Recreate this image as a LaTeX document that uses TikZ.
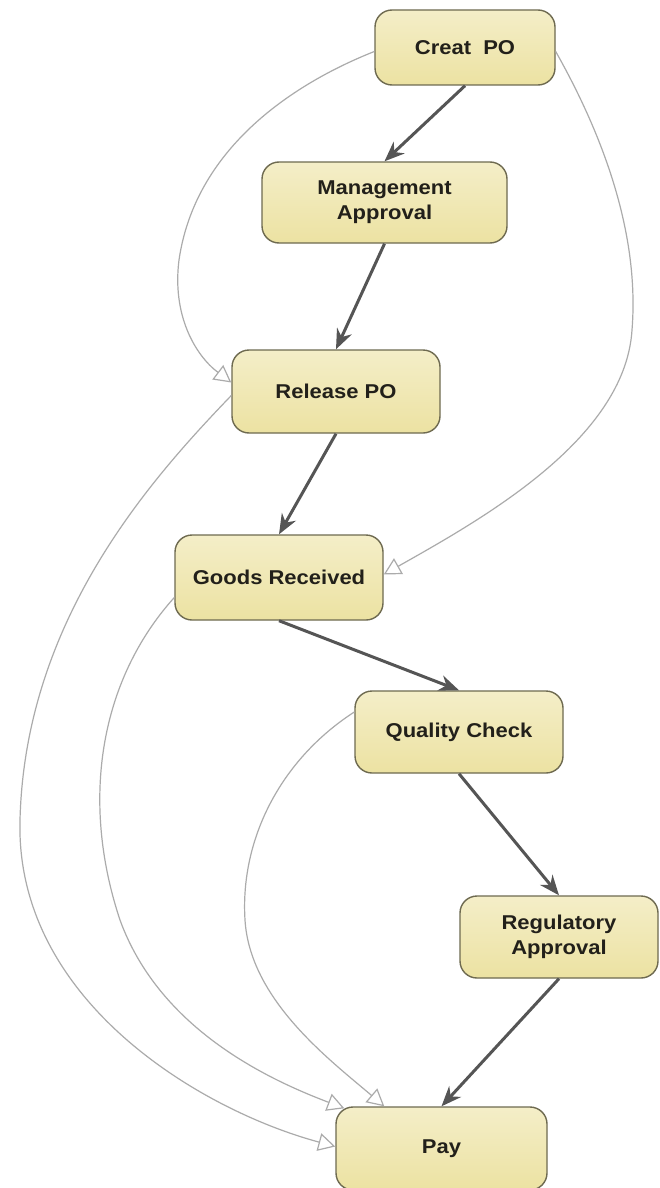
\documentclass[tikz,border=0pt]{standalone}
\usepackage{fontspec}
\setmainfont{Liberation Sans}[FakeStretch=1.1]
\usetikzlibrary{arrows.meta}

\definecolor{boxtop}{HTML}{F4EEC8}
\definecolor{boxbot}{HTML}{ECE2A2}
\definecolor{boxedge}{HTML}{6E6A50}
\definecolor{ink}{HTML}{22201A}
\definecolor{flow}{HTML}{555555}
\definecolor{link}{HTML}{ABABAB}

\tikzset{
  stepbox/.style={draw=boxedge, line width=1.4pt, rounded corners=17pt,
    top color=boxtop, bottom color=boxbot, text=ink, align=center,
    inner sep=0pt, font=\fontsize{20}{25}\selectfont\bfseries},
  flowline/.style={draw=flow, line width=3pt,
    -{Stealth[length=20pt,width=16pt]}},
  linkline/.style={draw=link, line width=1.2pt,
    -{Triangle[length=17pt,width=18pt,fill=white]}},
}

\begin{document}
\begin{tikzpicture}[x=1pt,y=-1pt]
  \useasboundingbox (0,0) rectangle (659,1188);
  \clip (0,0) rectangle (659,1188);
  \fill[white] (0,0) rectangle (659,1188);

  % process steps
  \node[stepbox, minimum width=180pt, minimum height=75pt] (creat) at (465,47.5) {Creat\ \ PO};
  \node[stepbox, minimum width=245pt, minimum height=81pt] (mgmt) at (384.5,202.5) {Management\\Approval};
  \node[stepbox, minimum width=208pt, minimum height=83pt] (release) at (336,391.5) {Release PO};
  \node[stepbox, minimum width=208pt, minimum height=85pt] (goods) at (279,577.5) {Goods Received};
  \node[stepbox, minimum width=208pt, minimum height=82pt] (quality) at (459,732) {Quality Check};
  \node[stepbox, minimum width=198pt, minimum height=82pt] (regul) at (559,937) {Regulatory\\Approval};
  \node[stepbox, minimum width=211pt, minimum height=83pt] (pay) at (441.5,1148.5) {Pay};

  % main flow
  \draw[flowline] (creat.south) -- (mgmt.north);
  \draw[flowline] (mgmt.south) -- (release.north);
  \draw[flowline] (release.south) -- (goods.north);
  \draw[flowline] (goods.south) -- (quality.north);
  \draw[flowline] (quality.south) -- (regul.north);
  \draw[flowline] (regul.south) -- (pay.north);

  % dependency links
  \draw[linkline] ([yshift=-4pt]creat.west)
    .. controls (290,85) and (195,150) .. (179,260)
    .. controls (172,315) and (195,355) .. ([yshift=9pt]release.west);
  \draw[linkline] ([yshift=-4pt]creat.east)
    .. controls (600,130) and (640,230) .. (632,330)
    .. controls (625,440) and (480,520) .. ([yshift=3pt]goods.east);
  \draw[linkline] ([yshift=-4pt]release.west)
    .. controls (150,480) and (25,620) .. (20,820)
    .. controls (15,1000) and (200,1110) .. ([yshift=2pt]pay.west);
  \draw[linkline] ([yshift=-20pt]goods.west)
    .. controls (100,680) and (80,800) .. (120,920)
    .. controls (160,1030) and (270,1080) .. ([xshift=9pt,yshift=-2pt]pay.north west);
  \draw[linkline] ([yshift=20pt]quality.west)
    .. controls (280,760) and (240,840) .. (245,920)
    .. controls (250,1000) and (330,1060) .. ([xshift=49pt]pay.north west);
\end{tikzpicture}
\end{document}
